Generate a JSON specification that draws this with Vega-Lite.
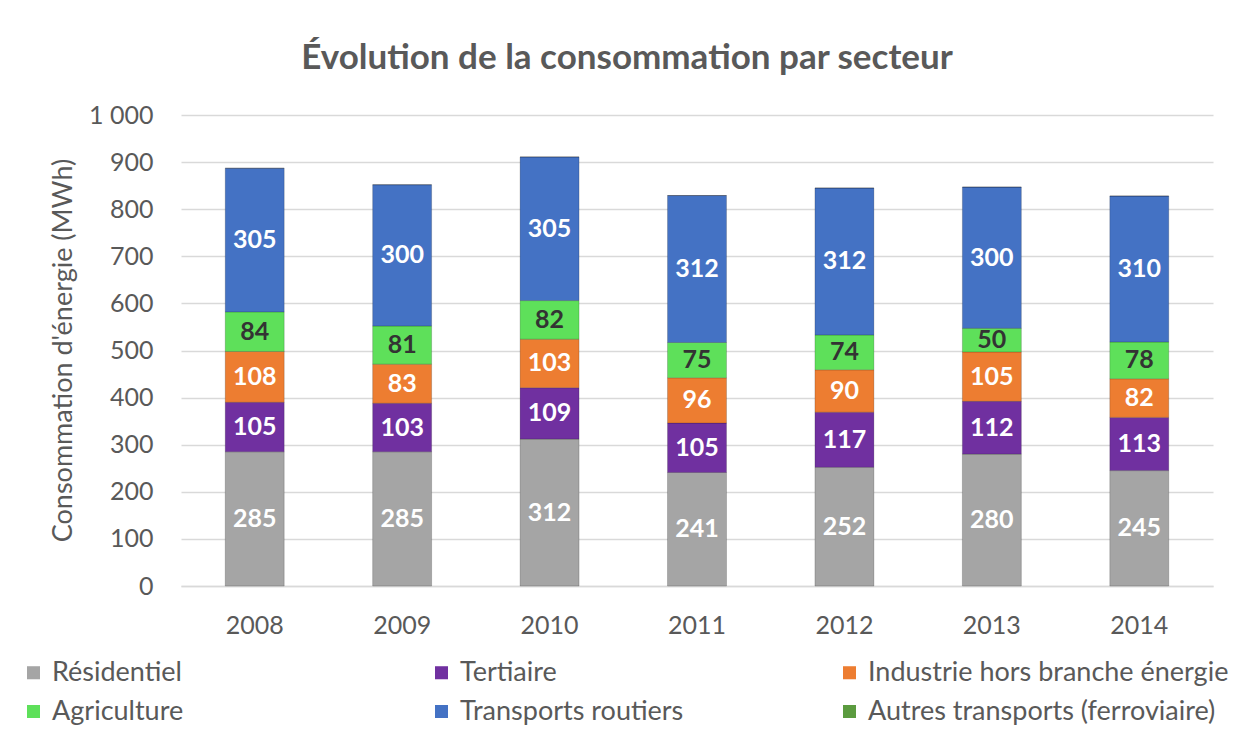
{
  "$schema": "https://vega.github.io/schema/vega-lite/v6.json",
  "width": 1032,
  "height": 471,
  "autosize": {"type": "none"},
  "padding": {"left": 181, "top": 115, "right": 27, "bottom": 151},
  "background": "#ffffff",
  "title": {
    "text": "Évolution de la consommation par secteur",
    "anchor": "middle",
    "dx": -70,
    "offset": 27,
    "fontSize": 35,
    "font": "Lato",
    "fontWeight": "bold",
    "color": "#595959"
  },
  "config": {
    "view": {"stroke": null},
    "font": "Lato"
  },
  "data": {
    "values": [
      {"annee": "2008", "secteur": "Résidentiel", "k": 1, "valeur": 285},
      {"annee": "2008", "secteur": "Tertiaire", "k": 2, "valeur": 105},
      {"annee": "2008", "secteur": "Industrie hors branche énergie", "k": 3, "valeur": 108},
      {"annee": "2008", "secteur": "Agriculture", "k": 4, "valeur": 84},
      {"annee": "2008", "secteur": "Transports routiers", "k": 5, "valeur": 305},
      {"annee": "2008", "secteur": "Autres transports (ferroviaire)", "k": 6, "valeur": 0},
      {"annee": "2009", "secteur": "Résidentiel", "k": 1, "valeur": 285},
      {"annee": "2009", "secteur": "Tertiaire", "k": 2, "valeur": 103},
      {"annee": "2009", "secteur": "Industrie hors branche énergie", "k": 3, "valeur": 83},
      {"annee": "2009", "secteur": "Agriculture", "k": 4, "valeur": 81},
      {"annee": "2009", "secteur": "Transports routiers", "k": 5, "valeur": 300},
      {"annee": "2009", "secteur": "Autres transports (ferroviaire)", "k": 6, "valeur": 0},
      {"annee": "2010", "secteur": "Résidentiel", "k": 1, "valeur": 312},
      {"annee": "2010", "secteur": "Tertiaire", "k": 2, "valeur": 109},
      {"annee": "2010", "secteur": "Industrie hors branche énergie", "k": 3, "valeur": 103},
      {"annee": "2010", "secteur": "Agriculture", "k": 4, "valeur": 82},
      {"annee": "2010", "secteur": "Transports routiers", "k": 5, "valeur": 305},
      {"annee": "2010", "secteur": "Autres transports (ferroviaire)", "k": 6, "valeur": 0},
      {"annee": "2011", "secteur": "Résidentiel", "k": 1, "valeur": 241},
      {"annee": "2011", "secteur": "Tertiaire", "k": 2, "valeur": 105},
      {"annee": "2011", "secteur": "Industrie hors branche énergie", "k": 3, "valeur": 96},
      {"annee": "2011", "secteur": "Agriculture", "k": 4, "valeur": 75},
      {"annee": "2011", "secteur": "Transports routiers", "k": 5, "valeur": 312},
      {"annee": "2011", "secteur": "Autres transports (ferroviaire)", "k": 6, "valeur": 0},
      {"annee": "2012", "secteur": "Résidentiel", "k": 1, "valeur": 252},
      {"annee": "2012", "secteur": "Tertiaire", "k": 2, "valeur": 117},
      {"annee": "2012", "secteur": "Industrie hors branche énergie", "k": 3, "valeur": 90},
      {"annee": "2012", "secteur": "Agriculture", "k": 4, "valeur": 74},
      {"annee": "2012", "secteur": "Transports routiers", "k": 5, "valeur": 312},
      {"annee": "2012", "secteur": "Autres transports (ferroviaire)", "k": 6, "valeur": 0},
      {"annee": "2013", "secteur": "Résidentiel", "k": 1, "valeur": 280},
      {"annee": "2013", "secteur": "Tertiaire", "k": 2, "valeur": 112},
      {"annee": "2013", "secteur": "Industrie hors branche énergie", "k": 3, "valeur": 105},
      {"annee": "2013", "secteur": "Agriculture", "k": 4, "valeur": 50},
      {"annee": "2013", "secteur": "Transports routiers", "k": 5, "valeur": 300},
      {"annee": "2013", "secteur": "Autres transports (ferroviaire)", "k": 6, "valeur": 0},
      {"annee": "2014", "secteur": "Résidentiel", "k": 1, "valeur": 245},
      {"annee": "2014", "secteur": "Tertiaire", "k": 2, "valeur": 113},
      {"annee": "2014", "secteur": "Industrie hors branche énergie", "k": 3, "valeur": 82},
      {"annee": "2014", "secteur": "Agriculture", "k": 4, "valeur": 78},
      {"annee": "2014", "secteur": "Transports routiers", "k": 5, "valeur": 310},
      {"annee": "2014", "secteur": "Autres transports (ferroviaire)", "k": 6, "valeur": 0}
    ]
  },
  "transform": [
    {"stack": "valeur", "groupby": ["annee"], "sort": [{"field": "k", "order": "ascending"}], "as": ["v0", "v1"]},
    {"calculate": "(datum.v0 + datum.v1) / 2", "as": "mid"}
  ],
  "encoding": {
    "x": {
      "field": "annee",
      "type": "ordinal",
      "scale": {"paddingInner": 0.6, "paddingOuter": 0.3},
      "axis": {
        "title": null,
        "labelAngle": 0,
        "labelFontSize": 25,
        "labelColor": "#595959",
        "labelPadding": 39,
        "labelBaseline": "middle",
        "ticks": false,
        "domainColor": "#d9d9d9",
        "domainWidth": 1.5
      }
    }
  },
  "layer": [
    {
      "mark": {"type": "bar", "stroke": "#000000", "strokeOpacity": 0.18, "strokeWidth": 1},
      "encoding": {
        "y": {
          "field": "v0",
          "type": "quantitative",
          "scale": {"domain": [0, 1000]},
          "axis": {
            "title": "Consommation d'énergie (MWh)",
            "titleFontSize": 27,
            "titleFontWeight": "normal",
            "titleColor": "#595959",
            "titleX": -118,
            "titleY": 235,
            "titleAngle": -90,
            "titleAlign": "center",
            "titleBaseline": "middle",
            "values": [0, 100, 200, 300, 400, 500, 600, 700, 800, 900, 1000],
            "labelExpr": "replace(format(datum.value, ','), ',', ' ')",
            "labelOverlap": false,
            "labelFontSize": 25,
            "labelColor": "#595959",
            "labelPadding": 28,
            "ticks": false,
            "domain": false,
            "gridColor": "#d9d9d9",
            "gridWidth": 1.5
          }
        },
        "y2": {"field": "v1"},
        "color": {
          "field": "secteur",
          "type": "nominal",
          "sort": ["Résidentiel", "Tertiaire", "Industrie hors branche énergie", "Agriculture", "Transports routiers", "Autres transports (ferroviaire)"],
          "scale": {
            "domain": ["Résidentiel", "Tertiaire", "Industrie hors branche énergie", "Agriculture", "Transports routiers", "Autres transports (ferroviaire)"],
            "range": ["#a5a5a5", "#7030a0", "#ed7d31", "#5ee05a", "#4472c4", "#5b9b3f"]
          },
          "legend": {
            "title": null,
            "orient": "none",
            "legendX": -161,
            "legendY": 544,
            "direction": "horizontal",
            "columns": 3,
            "gridAlign": "all",
            "columnPadding": 15,
            "rowPadding": 11,
            "symbolType": "square",
            "symbolSize": 170,
            "symbolStrokeWidth": 0,
            "labelFontSize": 27,
            "labelColor": "#595959",
            "labelOffset": 5,
            "labelLimit": 500
          }
        }
      }
    },
    {
      "transform": [{"filter": "datum.valeur > 0"}],
      "mark": {"type": "text", "fontSize": 25, "fontWeight": "bold", "baseline": "middle", "align": "center"},
      "encoding": {
        "y": {"field": "mid", "type": "quantitative"},
        "text": {"field": "valeur", "type": "quantitative"},
        "color": {
          "condition": {"test": "datum.secteur === 'Agriculture'", "value": "#333333"},
          "value": "#ffffff"
        }
      }
    }
  ]
}
